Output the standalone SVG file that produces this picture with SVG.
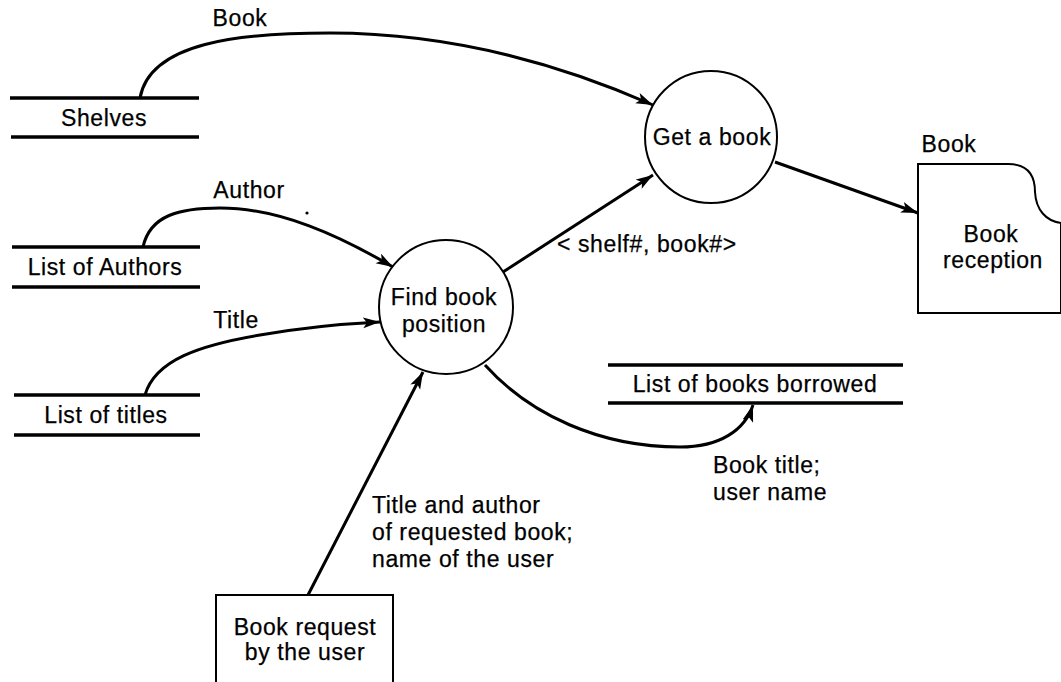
<svg xmlns="http://www.w3.org/2000/svg" width="1061" height="682" viewBox="0 0 1061 682">
  <defs>
    <marker id="arrow" markerUnits="userSpaceOnUse" markerWidth="20" markerHeight="12" refX="17" refY="5.5" orient="auto">
      <path d="M0,0 L17,5.5 L0,11 L4,5.5 Z" fill="#000"/>
    </marker>
    <style>
      text { font-family: "Liberation Sans", Arial, sans-serif; font-size: 23px; letter-spacing: 0.6px; fill: #000; stroke: #000; stroke-width: 0.25; }
      .mid { text-anchor: middle; }
      .store { stroke: #000; stroke-width: 3.5; fill: none; }
      .proc { stroke: #000; stroke-width: 2; fill: #fff; }
      .box { stroke: #000; stroke-width: 2; fill: #fff; }
      .flow { stroke: #000; stroke-width: 3; fill: none; marker-end: url(#arrow); }
    </style>
  </defs>
  <rect width="1061" height="682" fill="#fff"/>

  <!-- data flows -->
  <g id="connectors">
    <path class="flow" d="M140,98 C150,42 240,33 330,33 C450,33 560,64 653,105"/>
    <path class="flow" d="M143,247 C150,215 180,208 220,208 C280,208 340,236 393,267"/>
    <path class="flow" d="M145,395 C155,360 200,345 260,335 C300,328 340,324 380,322"/>
    <path class="flow" d="M503,272 L653,175"/>
    <path class="flow" d="M775,162 L918,213"/>
    <path class="flow" d="M485,365 C530,415 600,447 680,447 C720,447 745,430 753,405"/>
    <path class="flow" d="M308,595 L423,372"/>
    <text x="240" y="26" class="mid">Book</text>
    <text x="249" y="198" class="mid">Author</text>
    <text x="236" y="328" class="mid">Title</text>
    <circle cx="307" cy="213" r="1.6" fill="#000"/>
    <text x="557" y="252">&lt; shelf#, book#&gt;</text>
    <text x="713" y="473">Book title;</text>
    <text x="713" y="500">user name</text>
    <text x="372" y="513">Title and author</text>
    <text x="372" y="540">of requested book;</text>
    <text x="372" y="567">name of the user</text>
  </g>

  <!-- data stores -->
  <g id="store-shelves">
    <line class="store" x1="10" y1="98" x2="199" y2="98"/>
    <line class="store" x1="11" y1="137" x2="199" y2="137"/>
    <text x="104" y="126" class="mid">Shelves</text>
  </g>
  <g id="store-authors">
    <line class="store" x1="12" y1="247" x2="200" y2="247"/>
    <line class="store" x1="12" y1="287" x2="200" y2="287"/>
    <text x="105" y="275" class="mid">List of Authors</text>
  </g>
  <g id="store-titles">
    <line class="store" x1="14" y1="395" x2="200" y2="395"/>
    <line class="store" x1="14" y1="435" x2="200" y2="435"/>
    <text x="106" y="423" class="mid">List of titles</text>
  </g>
  <g id="store-borrowed">
    <line class="store" x1="608" y1="365" x2="903" y2="365"/>
    <line class="store" x1="608" y1="403" x2="903" y2="403"/>
    <text x="755" y="392" class="mid">List of books borrowed</text>
  </g>

  <!-- processes -->
  <g id="proc-get-book">
    <circle class="proc" cx="711" cy="137" r="66"/>
    <text x="712" y="145" class="mid">Get a book</text>
  </g>
  <g id="proc-find-position">
    <circle class="proc" cx="446" cy="307" r="67"/>
    <text x="444" y="305" class="mid">Find book</text>
    <text x="444" y="332" class="mid">position</text>
  </g>

  <!-- external entities -->
  <g id="ext-reception">
    <path class="box" d="M918,164 H1008 C1028,164 1035,176 1035,192 C1036,210 1046,221 1061,223 V313 H918 Z"/>
    <text x="949" y="152" class="mid">Book</text>
    <text x="991" y="242" class="mid">Book</text>
    <text x="993" y="268" class="mid">reception</text>
  </g>
  <g id="ext-request">
    <rect class="box" x="216" y="595" width="177" height="100"/>
    <text x="305" y="635" class="mid">Book request</text>
    <text x="305" y="660" class="mid">by the user</text>
  </g>
</svg>
